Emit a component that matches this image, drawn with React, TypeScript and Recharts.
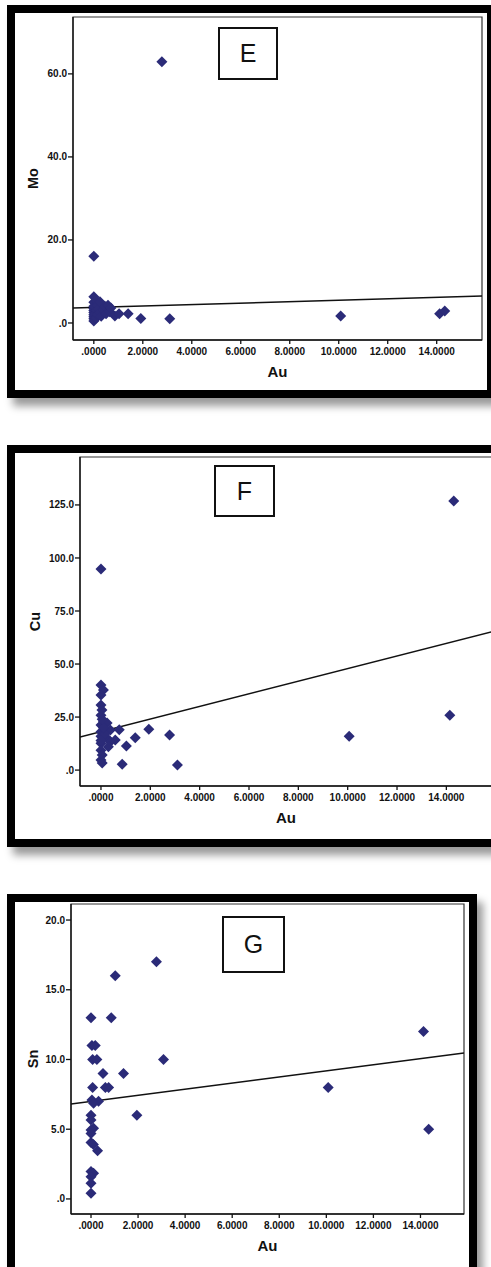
import React from "react";
import { ScatterChart, Scatter, XAxis, YAxis, ReferenceArea } from "recharts";

// Au (x) shared tick setup
const auTicks = [0, 2, 4, 6, 8, 10, 12, 14];
const auDomain = [-0.85, 15.85];

// Panel E: Mo vs Au
const auE = [0, 0, 0, 0, 0, 0, 0, 0, 0, 0, 0, 0.05, 0.05, 0.1, 0.1, 0.1, 0.15, 0.15, 0.2, 0.25, 0.25, 0.3, 0.38, 0.45, 0.5, 0.58, 0.65, 0.7, 0.86, 1.03, 1.4, 1.92, 2.78, 3.1, 10.08, 14.12, 14.33];
const moE = [16.1, 6.3, 5.0, 4.0, 3.5, 3.0, 2.5, 2.0, 1.5, 1.0, 0.5, 3.8, 2.2, 5.5, 3.0, 1.2, 4.2, 2.0, 3.4, 5.1, 2.5, 1.6, 3.1, 4.0, 2.2, 4.3, 2.7, 3.6, 1.7, 2.2, 2.2, 1.1, 62.9, 1.0, 1.7, 2.2, 2.9];
const fitAuE = [-0.85, 15.85];
const fitMoE = [3.6, 6.5];
const moTicks = [0, 20, 40, 60];

// Panel F: Cu vs Au
const auF = [0, 0, 0.1, 0, 0, 0.04, 0, 0.1, 0, 0.25, 0, 0.38, 0.74, 0.58, 0.24, 0, 0.38, 1.03, 1.39, 1.94, 2.78, 0, 0.05, 0, 0.05, 0.86, 0.3, 0, 0.15, 0, 0.1, 0.05, 3.1, 10.06, 14.14, 14.3];
const cuF = [94.8, 40.1, 37.7, 35.4, 30.7, 28.3, 25.9, 22.8, 21.2, 22.2, 18.1, 18.9, 19.0, 14.2, 15.1, 12.7, 13.4, 11.3, 15.3, 19.3, 16.5, 9.4, 7.1, 4.7, 3.3, 2.8, 11.0, 16.0, 17.0, 14.0, 20.0, 24.0, 2.4, 16.0, 25.9, 126.9];
const fitAuF = [-0.85, 15.85];
const fitCuF = [15.6, 65.2];
const cuTicks = [0, 25, 50, 75, 100, 125];

// Panel G: Sn vs Au
const auG = [0, 0.86, 0.04, 0.18, 0.07, 0.25, 3.08, 0.51, 1.38, 0.07, 0.61, 0.75, 0.04, 0.32, 0.11, 1.95, 0, 0, 0.11, 0, 0, 0, 0.28, 0.1, 0, 0.11, 0, 0, 0, 2.78, 1.03, 10.08, 14.13, 14.35];
const snG = [13.0, 13.0, 11.0, 11.0, 10.0, 10.0, 10.0, 9.0, 9.0, 8.0, 8.0, 8.0, 7.1, 7.0, 6.86, 6.0, 6.0, 5.66, 5.07, 4.95, 4.7, 4.04, 3.46, 3.9, 1.96, 1.84, 1.6, 1.12, 0.41, 17.0, 16.0, 8.0, 12.0, 5.0];
const fitAuG = [-0.85, 15.85];
const fitSnG = [6.81, 10.47];
const snTicks = [0, 5, 10, 15, 20];

const navy = "#2b2b78";
const tickStyle = { fontSize: 10, fontWeight: 700, fill: "#111", fontFamily: "Liberation Sans, Arial, sans-serif" };
const titleStyle = { fontSize: 15, fontWeight: 700, fill: "#111", fontFamily: "Liberation Sans, Arial, sans-serif" };

const Diamond = (p: any) => {
  const { cx, cy } = p;
  const r = 5.5;
  return <polygon points={`${cx},${cy - r} ${cx + r},${cy} ${cx},${cy + r} ${cx - r},${cy}`} fill={navy} />;
};

const fmtAu = (v: number) => (v === 0 ? ".0000" : v.toFixed(4));
const fmtY = (v: number) => (v === 0 ? ".0" : v.toFixed(1));

interface PanelProps {
  letter: string;
  yName: string;
  xs: number[];
  ys: number[];
  fitX: number[];
  fitY: number[];
  yDomain: number[];
  yTicks: number[];
  frame: { left: number; top: number; width: number; height: number };
  chart: { top: number; right: number; yWidth: number; xHeight: number; titleX: number };
  box: { left: number; top: number; width: number; height: number };
}

const Panel = ({ letter, yName, xs, ys, fitX, fitY, yDomain, yTicks, frame, chart, box }: PanelProps) => {
  const data = xs.map((x, i) => ({ au: x, v: ys[i] }));
  const fit = fitX.map((x, i) => ({ au: x, v: fitY[i] }));
  const w = frame.width - 16;
  const h = frame.height - 16;
  return (
    <>
      <div
        style={{
          position: "absolute",
          left: frame.left,
          top: frame.top,
          width: w,
          height: h,
          border: "8px solid #000",
          background: "#fff",
          boxShadow: "6px 8px 8px rgba(0,0,0,0.4)",
        }}
      >
        <ScatterChart width={w} height={h} margin={{ top: chart.top, right: chart.right, left: 0, bottom: 0 }}>
          <XAxis
            type="number"
            dataKey="au"
            domain={auDomain}
            ticks={auTicks}
            allowDataOverflow
            tickFormatter={fmtAu}
            height={chart.xHeight}
            tickSize={4}
            tickMargin={4}
            tick={tickStyle}
            stroke="#111"
            strokeWidth={1.3}
            label={{ value: "Au", position: "insideTop", offset: 26, style: titleStyle }}
          />
          <YAxis
            type="number"
            dataKey="v"
            domain={yDomain}
            ticks={yTicks}
            allowDataOverflow
            tickFormatter={fmtY}
            width={chart.yWidth}
            tickSize={5}
            tickMargin={1}
            tick={tickStyle}
            stroke="#111"
            strokeWidth={1.3}
            label={{
              value: yName,
              angle: -90,
              position: "insideLeft",
              offset: chart.titleX,
              style: { ...titleStyle, fontSize: 14.5, textAnchor: "middle" },
            }}
          />
          <ReferenceArea
            x1={auDomain[0]}
            x2={auDomain[1]}
            y1={yDomain[0]}
            y2={yDomain[1]}
            fill="none"
            stroke="#333"
            strokeWidth={1.2}
            ifOverflow="visible"
          />
          <Scatter data={fit} line={{ stroke: "#111", strokeWidth: 1.5 }} shape={() => null} isAnimationActive={false} />
          <Scatter data={data} shape={Diamond} isAnimationActive={false} />
        </ScatterChart>
      </div>
      <div
        style={{
          position: "absolute",
          left: box.left,
          top: box.top,
          width: box.width - 4,
          height: box.height - 4,
          border: "2px solid #111",
          background: "#fff",
          display: "flex",
          alignItems: "center",
          justifyContent: "center",
          fontFamily: "Liberation Sans, Arial, sans-serif",
          fontSize: 25,
          color: "#111",
        }}
      >
        {letter}
      </div>
    </>
  );
};

export default function App() {
  return (
    <div style={{ position: "absolute", left: 0, top: 0, width: 491, height: 1267, overflow: "hidden", background: "#fff" }}>
      <Panel
        letter="E"
        yName="Mo"
        xs={auE}
        ys={moE}
        fitX={fitAuE}
        fitY={fitMoE}
        yDomain={[-4.1, 73.7]}
        yTicks={moTicks}
        frame={{ left: 7, top: 5, width: 488, height: 393 }}
        chart={{ top: 4, right: 5, yWidth: 58, xHeight: 50, titleX: 18 }}
        box={{ left: 218, top: 27, width: 60, height: 53 }}
      />
      <Panel
        letter="F"
        yName="Cu"
        xs={auF}
        ys={cuF}
        fitX={fitAuF}
        fitY={fitCuF}
        yDomain={[-7.5, 147.6]}
        yTicks={cuTicks}
        frame={{ left: 7, top: 445, width: 498, height: 402 }}
        chart={{ top: 4, right: 5, yWidth: 65, xHeight: 53, titleX: 20 }}
        box={{ left: 214, top: 465, width: 61, height: 52 }}
      />
      <Panel
        letter="G"
        yName="Sn"
        xs={auG}
        ys={snG}
        fitX={fitAuG}
        fitY={fitSnG}
        yDomain={[-1.08, 21.15]}
        yTicks={snTicks}
        frame={{ left: 7, top: 894, width: 470, height: 391 }}
        chart={{ top: 2, right: 5, yWidth: 56, xHeight: 63, titleX: 18 }}
        box={{ left: 222, top: 916, width: 63, height: 57 }}
      />
    </div>
  );
}
